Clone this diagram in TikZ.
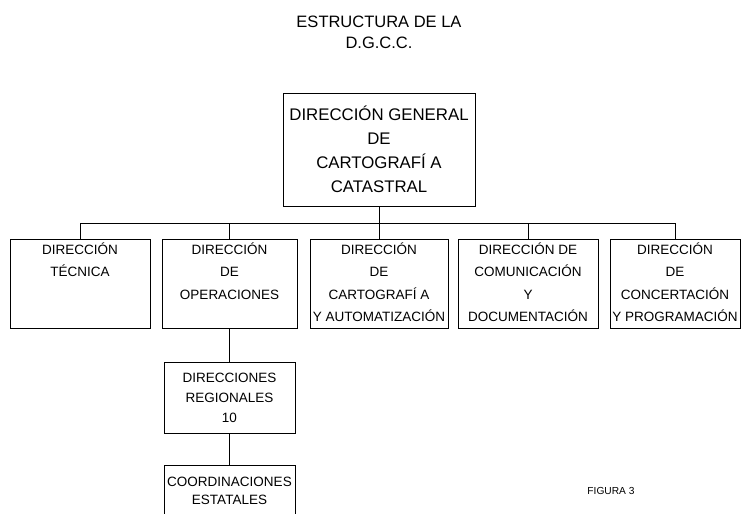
\documentclass[tikz,border=0pt]{standalone}
\usepackage{fontspec}
\setmainfont{Liberation Sans}

% texto pegado arriba dentro de las cajas de la fila de direcciones
\newcommand\arriba[2]{\parbox[c][89pt][t]{#1}{\centering\rule{0pt}{15pt}#2}}

\begin{document}
\begin{tikzpicture}[x=1pt,y=-1pt]
      \tikzset{dir/.style={draw,line width=1pt,inner sep=0pt,font=\fontsize{13.5}{22.5}\selectfont},
               linea/.style={line width=1pt}}
      \clip (0,0) rectangle (742,514);
      \node[align=center,font=\fontsize{16.5}{21}\selectfont] (titulo) at (379,32) {ESTRUCTURA DE LA\\D.G.C.C.};
      \node[dir,minimum width=192pt,minimum height=113pt,align=center,font=\fontsize{16.8}{24}\selectfont] (gen) at (379,149.5)
            {DIRECCIÓN GENERAL\\DE\\CARTOGRAFÍ A\\CATASTRAL};
      \node[dir] (tec) at (80,283.5) {\arriba{140pt}{DIRECCIÓN\\TÉCNICA}};
      \node[dir] (ope) at (229.5,283.5) {\arriba{135pt}{DIRECCIÓN\\DE\\OPERACIONES}};
      \node[dir] (car) at (379,283.5) {\arriba{138pt}{DIRECCIÓN\\DE\\CARTOGRAFÍ A\\Y AUTOMATIZACIÓN}};
      \node[dir] (com) at (528,283.5) {\arriba{140pt}{DIRECCIÓN DE\\COMUNICACIÓN\\Y\\DOCUMENTACIÓN}};
      \node[dir] (con) at (675,283.5) {\arriba{130pt}{DIRECCIÓN\\DE\\CONCERTACIÓN\\Y PROGRAMACIÓN}};
      \node[dir,minimum width=131pt,minimum height=71pt,align=center,font=\fontsize{13.5}{20}\selectfont] (reg) at (229.5,397.5)
            {DIRECCIONES\\REGIONALES\\10};
      \node[dir,minimum width=131pt,minimum height=52pt,align=center,font=\fontsize{13.5}{18}\selectfont] (coo) at (229.5,491)
            {COORDINACIONES\\ESTATALES};
      \node[font=\fontsize{10.2}{12}\selectfont] (fig) at (611,491) {FIGURA 3};
      % conectores
      \coordinate (bus) at (379,223);
      \draw[linea] (gen.south) -- (bus);
      \foreach \n in {tec,ope,car,com,con}
            \draw[linea] (\n.north) |- (bus);
      \draw[linea] (ope.south) -- (reg.north);
      \draw[linea] (reg.south) -- (coo.north);
    \end{tikzpicture}
\end{document}
